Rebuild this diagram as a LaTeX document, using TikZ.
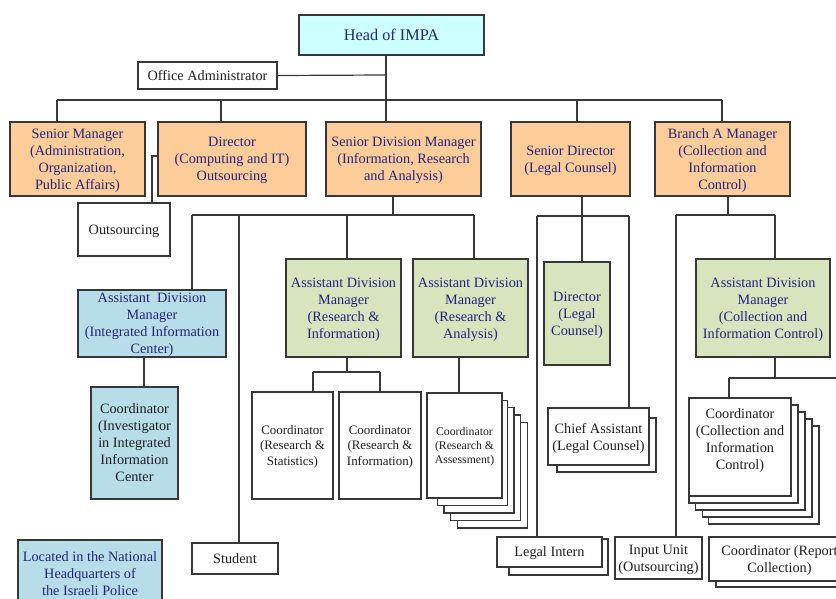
\documentclass[tikz,border=0pt]{standalone}
\usepackage{fontspec}
\setmainfont{Liberation Serif}
\newfontfamily\tms{Liberation Serif}
\definecolor{navy}{RGB}{35,35,125}
\definecolor{edge}{RGB}{55,55,55}
\definecolor{ink}{RGB}{30,30,30}
\definecolor{cyanbox}{RGB}{204,255,255}
\definecolor{peach}{RGB}{252,204,153}
\definecolor{lblue}{RGB}{183,221,232}
\definecolor{lgreen}{RGB}{215,228,189}
\tikzset{
  box/.style={draw=edge, line width=0.9pt, fill=white, inner sep=0pt, align=center,
    text=ink, text depth=-3pt, font=\tms\fontsize{10.7}{12.75}\selectfont},
  peachbox/.style={box, fill=peach, text=navy},
  bluebox/.style={box, fill=lblue, text=navy},
  greenbox/.style={box, fill=lgreen, text=navy},
  smallfont/.style={font=\tms\fontsize{9.7}{11.6}\selectfont},
  tinyfont/.style={font=\tms\fontsize{8.8}{10.6}\selectfont},
  backbox/.style={draw=edge, line width=0.9pt, fill=white},
  conn/.style={draw=edge, line width=0.9pt}
}
\begin{document}
\begin{tikzpicture}[x=0.75pt,y=-0.75pt]
\useasboundingbox (0,0) rectangle (836,599);
\clip (0,0) rectangle (836,599);

% top
\node[box, fill=cyanbox, text=navy, minimum width=138.75pt, minimum height=30pt, font=\tms\fontsize{12.2}{14}\selectfont] (head) at (391.5,35) {Head of IMPA};
\node[box, minimum width=104.25pt, minimum height=20.25pt] (office) at (207.5,75.5) {Office Administrator};

% level 1
\node[peachbox, minimum width=101.25pt, minimum height=55.5pt] (sm) at (77.5,159) {Senior Manager\\(Administration,\\Organization,\\Public Affairs)};
\node[peachbox, minimum width=111pt, minimum height=55.5pt] (dir) at (232,159) {Director\\(Computing and IT)\\Outsourcing};
\node[peachbox, minimum width=116.25pt, minimum height=55.5pt] (sdm) at (403.5,159) {Senior Division Manager\\(Information, Research\\and Analysis)};
\node[peachbox, minimum width=89.25pt, minimum height=55.5pt] (sd) at (570.5,159) {Senior Director\\(Legal Counsel)};
\node[peachbox, minimum width=101.25pt, minimum height=55.5pt] (bam) at (722.5,159) {Branch A Manager\\(Collection and\\Information\\Control)};

% left column
\node[box, minimum width=69pt, minimum height=39.75pt] (outs) at (124,229.5) {Outsourcing};
\node[bluebox, minimum width=111pt, minimum height=50.25pt] (adm1) at (152,323.5) {Assistant\ \ Division\\Manager\\(Integrated Information\\Center)};
\node[box, fill=lblue, minimum width=65.25pt, minimum height=84pt] (coordI) at (134.5,443) {Coordinator\\(Investigator\\in Integrated\\Information\\Center};
\node[bluebox, minimum width=108pt, minimum height=51pt] (located) at (90,574) {};
\node[text=navy, align=center, inner sep=0pt, font=\tms\fontsize{10.7}{12.75}\selectfont] (locatedtxt) at (90,574) {Located in the National\\Headquarters of\\the Israeli Police};
\node[box, minimum width=64.5pt, minimum height=23.25pt] (student) at (235,558.5) {Student};

% research
\node[greenbox, minimum width=86.25pt, minimum height=73.5pt] (adm2) at (343.5,308) {Assistant Division\\Manager\\(Research \&\\Information)};
\node[greenbox, minimum width=86.25pt, minimum height=73.5pt] (adm3) at (470.5,308) {Assistant Division\\Manager\\(Research \&\\Analysis)};
\node[box, smallfont, minimum width=60.75pt, minimum height=80.25pt] (cRS) at (292.5,445.5) {Coordinator\\(Research \&\\Statistics)};
\node[box, smallfont, minimum width=61.5pt, minimum height=80.25pt] (cRI) at (380,445.5) {Coordinator\\(Research \&\\Information)};
\foreach \k in {4,3,2,1}{
  \draw[backbox] ({430.5+6.7*\k},{393+7.3*\k}) rectangle ({500.5+6.7*\k},{498+7.5*\k});
}
\node[box, tinyfont, minimum width=56.25pt, minimum height=78.75pt] (cRA) at (464.5,445.5) {Coordinator\\(Research \&\\Assessment)};

% legal
\node[greenbox, minimum width=49.5pt, minimum height=77.25pt] (dirL) at (577,313.5) {Director\\(Legal\\Counsel)};
\draw[backbox] (557,418) rectangle (656,472);
\node[box, minimum width=75.75pt, minimum height=42.75pt] (chief) at (598.5,436.5) {Chief Assistant\\(Legal Counsel)};
\draw[backbox] (509,539) rectangle (608,575);
\node[box, minimum width=78.75pt, minimum height=22.5pt] (intern) at (549.5,552) {Legal Intern};

% collection
\node[greenbox, minimum width=100.5pt, minimum height=73.5pt] (adm4) at (763,308) {Assistant Division\\Manager\\(Collection and\\Information Control)};
\foreach \k in {4,3,2,1}{
  \draw[backbox] ({682.4+6.6*\k},{398+7*\k}) rectangle ({791+7*\k},{496+7*\k});
}
\node[box, minimum width=76.5pt, minimum height=73.5pt] (cCI) at (740,447) {};
\node[text=ink, align=center, inner sep=0pt, font=\tms\fontsize{10.7}{12.75}\selectfont] (cCItxt) at (740,441) {Coordinator\\(Collection and\\Information\\Control)};
\node[box, minimum width=65.25pt, minimum height=31.5pt] (input) at (658.5,558) {Input Unit\\(Outsourcing)};
\draw[backbox] (716,543) rectangle (857,587);
\node[box, minimum width=105.75pt, minimum height=33pt] (report) at (779.5,559) {Coordinator (Report\\Collection)};

% connectors top
\coordinate (tA) at (386,75);
\draw[conn] (head.south -| tA) -- (sdm.north -| tA);
\draw[conn] (office.east) -- (tA);
\coordinate (b1) at (57,100);
\coordinate (b2) at (722,100);
\coordinate (b3) at (221,100);
\coordinate (b4) at (577,100);
\draw[conn] (b1) -- (b2);
\draw[conn] (b1) -- (sm.north -| b1);
\draw[conn] (b3) -- (dir.north -| b3);
\draw[conn] (b4) -- (sd.north -| b4);
\draw[conn] (b2) -- (bam.north -| b2);

% director to outsourcing
\coordinate (o1) at (152,156);
\draw[conn] (dir.west |- o1) -- (o1) -- (outs.north -| o1);

% senior division manager
\coordinate (s0) at (393,215);
\coordinate (s1) at (192,215);
\coordinate (s2) at (474,215);
\coordinate (s3) at (239,215);
\coordinate (s4) at (347,215);
\draw[conn] (sdm.south -| s0) -- (s0);
\draw[conn] (s1) -- (s2);
\draw[conn] (s1) -- (adm1.north -| s1);
\draw[conn] (s3) -- (student.north -| s3);
\draw[conn] (s4) -- (adm2.north -| s4);
\draw[conn] (s2) -- (adm3.north -| s2);

\coordinate (i1) at (144,370);
\draw[conn] (adm1.south -| i1) -- (coordI.north -| i1);

\coordinate (r0) at (347,372);
\coordinate (r1) at (313,372);
\coordinate (r2) at (380,372);
\draw[conn] (adm2.south -| r0) -- (r0);
\draw[conn] (r1) -- (r2);
\draw[conn] (r1) -- (cRS.north -| r1);
\draw[conn] (r2) -- (cRI.north -| r2);
\coordinate (a1) at (459,380);
\draw[conn] (adm3.south -| a1) -- (cRA.north -| a1);

% legal
\coordinate (l0) at (582,216);
\coordinate (l1) at (537,216);
\coordinate (l2) at (629,216);
\draw[conn] (sd.south -| l0) -- (dirL.north -| l0);
\draw[conn] (l1) -- (l2);
\draw[conn] (l1) -- (intern.north -| l1);
\draw[conn] (l2) -- (chief.north -| l2);

% collection
\coordinate (c0) at (728,215);
\coordinate (c1) at (676,215);
\coordinate (c2) at (775,215);
\draw[conn] (bam.south -| c0) -- (c0);
\draw[conn] (c1) -- (c2);
\draw[conn] (c1) -- (input.north -| c1);
\draw[conn] (c2) -- (adm4.north -| c2);
\coordinate (d0) at (775,378);
\coordinate (d1) at (729,378);
\coordinate (d2) at (836,378);
\draw[conn] (adm4.south -| d0) -- (d0);
\draw[conn] (d1) -- (d2);
\draw[conn] (d1) -- (cCI.north -| d1);
\end{tikzpicture}
\end{document}
